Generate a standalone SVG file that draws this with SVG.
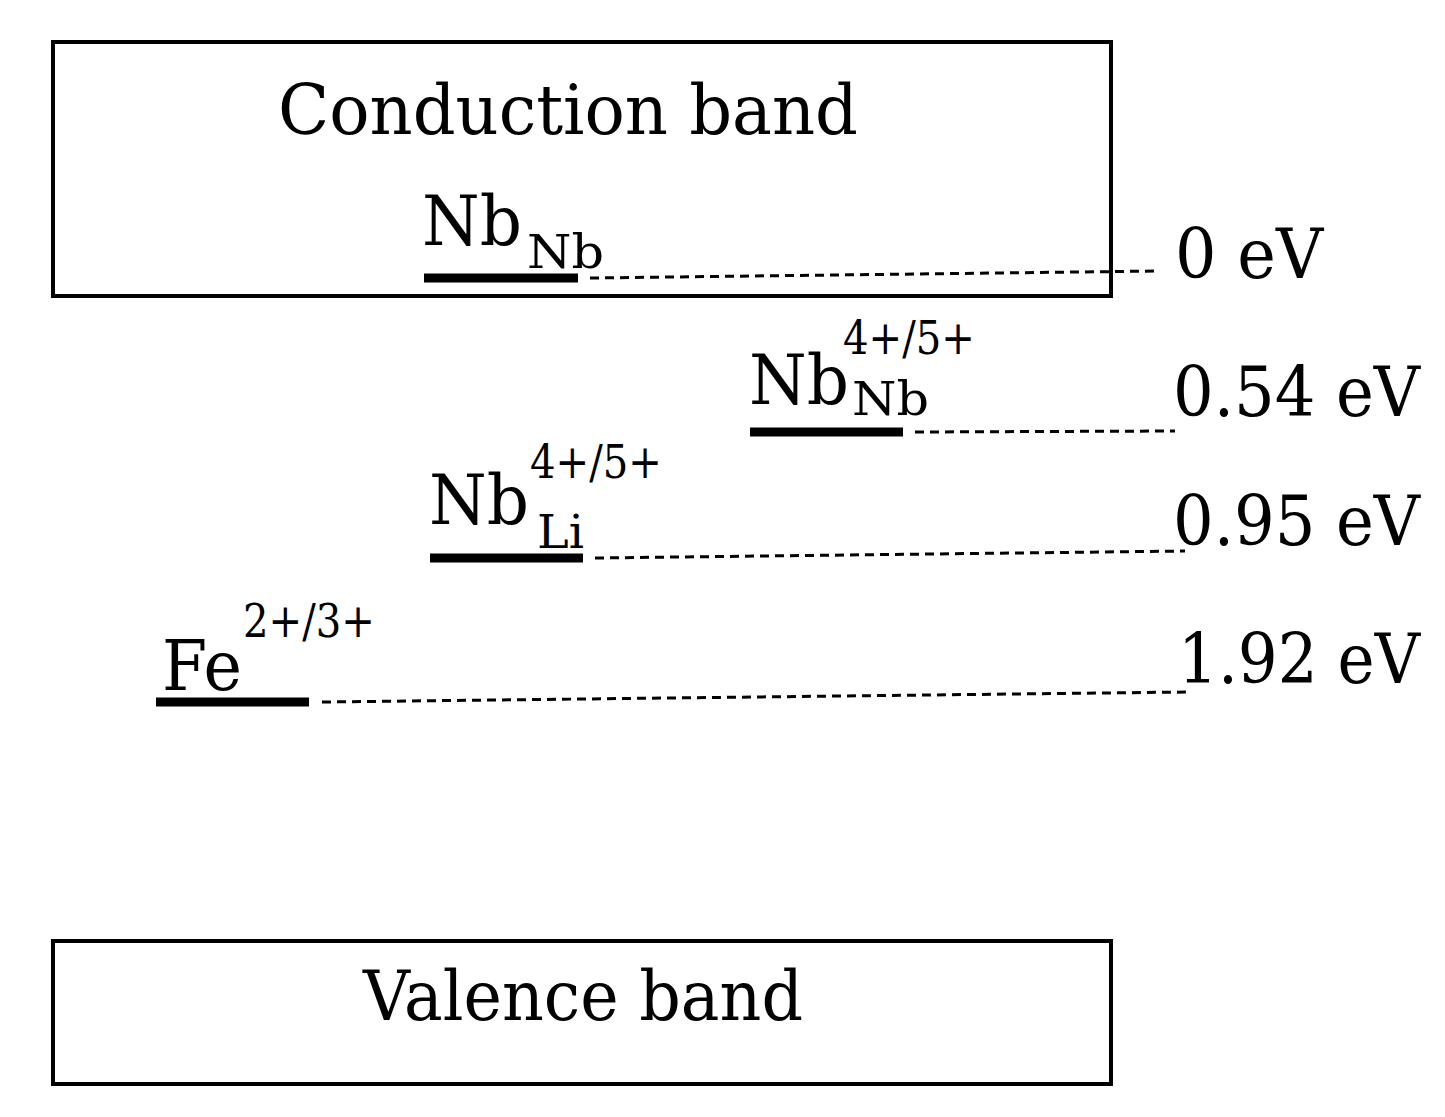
<svg xmlns="http://www.w3.org/2000/svg" width="1445" height="1117" viewBox="0 0 1445 1117">
<style>
text{font-family:"DejaVu Serif","Liberation Serif",serif;fill:#000}
.b{font-size:70px}.s{font-size:46px}
.box{fill:none;stroke:#000;stroke-width:4}
.bar{stroke:#000;stroke-width:9}
.d{stroke:#000;stroke-width:3;stroke-dasharray:9,6}
</style>
<rect width="1445" height="1117" fill="#fff"/>
<g id="conduction"><rect class="box" x="53" y="42" width="1058" height="254"/><text class="b" x="568" y="134" text-anchor="middle" textLength="580" lengthAdjust="spacingAndGlyphs">Conduction band</text></g>
<g id="valence"><rect class="box" x="53" y="941" width="1058" height="143"/><text class="b" x="583" y="1020" text-anchor="middle" textLength="440" lengthAdjust="spacingAndGlyphs">Valence band</text></g>
<g id="nbnb"><line class="bar" x1="424" y1="278" x2="578" y2="278"/><text class="b" x="422" y="245" textLength="100" lengthAdjust="spacingAndGlyphs">Nb</text><text class="s" x="527" y="268" textLength="77" lengthAdjust="spacingAndGlyphs">Nb</text></g>
<g id="nbnb45"><line class="bar" x1="750" y1="432" x2="903" y2="432"/><text class="b" x="749" y="404" textLength="100" lengthAdjust="spacingAndGlyphs">Nb</text><text class="s" x="843" y="354" textLength="132" lengthAdjust="spacingAndGlyphs">4+/5+</text><text class="s" x="852" y="415" textLength="77" lengthAdjust="spacingAndGlyphs">Nb</text></g>
<g id="nbli"><line class="bar" x1="430" y1="558" x2="583" y2="558"/><text class="b" x="429" y="524" textLength="100" lengthAdjust="spacingAndGlyphs">Nb</text><text class="s" x="530" y="478" textLength="132" lengthAdjust="spacingAndGlyphs">4+/5+</text><text class="s" x="537" y="548" textLength="47" lengthAdjust="spacingAndGlyphs">Li</text></g>
<g id="fe"><line class="bar" x1="156" y1="702" x2="309" y2="702"/><text class="b" x="162" y="690" textLength="80" lengthAdjust="spacingAndGlyphs">Fe</text><text class="s" x="243" y="637" textLength="132" lengthAdjust="spacingAndGlyphs">2+/3+</text></g>
<g id="energies">
<text class="b" x="1175" y="278" textLength="148" lengthAdjust="spacingAndGlyphs">0 eV</text>
<text class="b" x="1173" y="416" textLength="247" lengthAdjust="spacingAndGlyphs">0.54 eV</text>
<text class="b" x="1173" y="545" textLength="247" lengthAdjust="spacingAndGlyphs">0.95 eV</text>
<text class="b" x="1178" y="683" textLength="242" lengthAdjust="spacingAndGlyphs">1.92 eV</text>
</g>
<g id="connectors">
<line class="d" x1="590" y1="278" x2="1160" y2="271"/>
<line class="d" x1="915" y1="432" x2="1175" y2="431"/>
<line class="d" x1="595" y1="558" x2="1185" y2="551"/>
<line class="d" x1="322" y1="702" x2="1188" y2="692"/>
</g>
</svg>
